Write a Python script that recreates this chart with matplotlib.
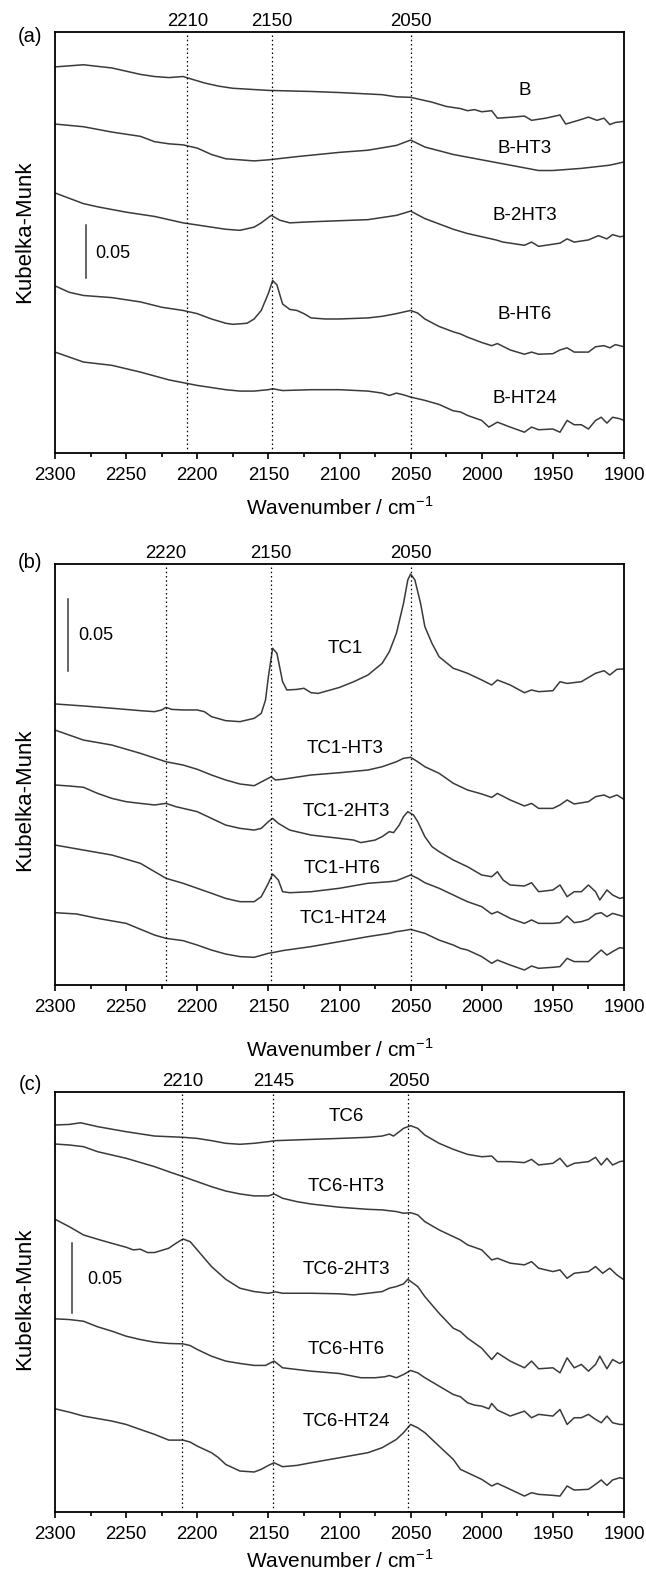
import matplotlib
matplotlib.use('Agg')
import matplotlib.pyplot as plt
from matplotlib.ticker import MultipleLocator

plt.rcParams['font.family'] = ['Liberation Sans', 'DejaVu Sans']

# ---------------- data: (wavenumber / cm-1, Kubelka-Munk) ----------------
# panel (a)
B = [(2300,0.361),(2280,0.363),(2260,0.360),(2240,0.354),(2230,0.352),(2220,0.351),(2210,0.352),
     (2205,0.350),(2195,0.346),(2185,0.343),(2175,0.341),(2150,0.339),(2120,0.338),(2100,0.337),
     (2070,0.335),(2060,0.333),(2050,0.3325),(2045,0.331),(2035,0.328),(2025,0.324),(2015,0.322),
     (2010,0.320),(2005,0.321),(2000,0.319),(1993,0.320),(1989,0.313),(1978,0.314),(1970,0.315),
     (1965,0.311),(1955,0.313),(1945,0.316),(1941,0.3075),(1932,0.311),(1925,0.314),(1919,0.311),
     (1914,0.313),(1910,0.307),(1906,0.309),(1900,0.310)]
B_HT3 = [(2300,0.3075),(2280,0.305),(2260,0.300),(2240,0.296),(2230,0.291),(2220,0.289),(2210,0.288),
         (2200,0.285),(2190,0.279),(2180,0.275),(2170,0.274),(2160,0.273),(2150,0.274),(2130,0.277),
         (2100,0.281),(2080,0.283),(2060,0.2875),(2050,0.2925),(2040,0.286),(2020,0.279),(2000,0.274),
         (1980,0.269),(1960,0.264),(1950,0.264),(1930,0.266),(1910,0.269),(1900,0.272)]
B_2HT3 = [(2300,0.243),(2280,0.233),(2270,0.230),(2250,0.225),(2230,0.221),(2210,0.215),(2200,0.213),
          (2180,0.209),(2170,0.208),(2160,0.211),(2155,0.215),(2148,0.222),(2142,0.2175),(2135,0.215),
          (2120,0.216),(2100,0.217),(2080,0.218),(2060,0.222),(2050,0.226),(2040,0.219),(2030,0.214),
          (2020,0.209),(2010,0.205),(2000,0.202),(1990,0.199),(1985,0.197),(1970,0.194),(1965,0.197),
          (1960,0.193),(1945,0.196),(1940,0.200),(1935,0.197),(1925,0.199),(1918,0.203),(1912,0.200),
          (1908,0.204),(1903,0.202),(1900,0.2025)]
B_HT6 = [(2300,0.156),(2290,0.150),(2280,0.147),(2260,0.145),(2240,0.141),(2225,0.136),(2210,0.133),
         (2200,0.130),(2190,0.125),(2180,0.121),(2175,0.120),(2165,0.121),(2160,0.125),(2155,0.133),
         (2150,0.149),(2147,0.161),(2144,0.157),(2140,0.139),(2135,0.134),(2130,0.133),(2125,0.130),
         (2120,0.126),(2110,0.125),(2100,0.125),(2080,0.126),(2070,0.1275),(2060,0.130),(2055,0.1315),
         (2050,0.133),(2045,0.1305),(2040,0.125),(2030,0.118),(2020,0.113),(2015,0.111),(2010,0.108),
         (2000,0.103),(1993,0.100),(1989,0.102),(1980,0.096),(1970,0.092),(1965,0.094),(1960,0.092),
         (1950,0.0925),(1945,0.096),(1940,0.098),(1935,0.094),(1925,0.094),(1920,0.099),(1914,0.100),
         (1910,0.098),(1906,0.101),(1900,0.099)]
B_HT24 = [(2300,0.094),(2280,0.0847),(2260,0.0816),(2240,0.0753),(2220,0.068),(2200,0.0628),(2180,0.0588),
          (2170,0.0575),(2160,0.0575),(2150,0.0588),(2147,0.0597),(2140,0.058),(2120,0.0588),(2100,0.0588),
          (2080,0.0575),(2070,0.0556),(2065,0.0534),(2060,0.0556),(2055,0.054),(2050,0.0519),(2040,0.0488),
          (2030,0.045),(2020,0.039),(2015,0.038),(2010,0.0347),(2000,0.030),(1995,0.0238),(1989,0.0284),
          (1980,0.0238),(1970,0.019),(1965,0.0238),(1960,0.0213),(1950,0.022),(1945,0.019),(1940,0.030),
          (1935,0.026),(1930,0.026),(1925,0.022),(1920,0.030),(1916,0.033),(1912,0.0275),(1908,0.033),
          (1903,0.0316),(1900,0.030)]

# panel (b)
TC1 = [(2300,0.197),(2280,0.1956),(2260,0.194),(2240,0.1923),(2230,0.1916),(2225,0.1928),(2222,0.1946),
       (2218,0.1932),(2210,0.1928),(2200,0.1928),(2195,0.1916),(2190,0.1881),(2180,0.1853),(2170,0.1846),
       (2160,0.1869),(2155,0.1904),(2152,0.1998),(2150,0.2161),(2147,0.236),(2144,0.2325),(2140,0.2126),
       (2137,0.2068),(2130,0.2072),(2125,0.208),(2120,0.2049),(2115,0.2044),(2100,0.2086),(2090,0.2126),
       (2080,0.2173),(2070,0.2255),(2065,0.2336),(2060,0.2465),(2055,0.2675),(2052,0.2839),(2050,0.2881),
       (2047,0.2839),(2043,0.2675),(2040,0.2512),(2035,0.2395),(2030,0.2301),(2020,0.222),(2015,0.2203),
       (2010,0.2185),(2000,0.2138),(1993,0.2103),(1989,0.2138),(1980,0.2103),(1970,0.2049),(1965,0.2068),
       (1960,0.2056),(1950,0.2063),(1945,0.2126),(1940,0.2114),(1930,0.2126),(1920,0.2185),(1914,0.2203),
       (1910,0.2173),(1905,0.2213),(1900,0.2215)]
TC1_HT3 = [(2300,0.1787),(2280,0.1717),(2260,0.1682),(2240,0.1624),(2222,0.1565),(2210,0.1542),(2200,0.1512),
           (2190,0.1472),(2180,0.1437),(2170,0.1409),(2160,0.1397),(2148,0.146),(2145,0.1437),(2140,0.1442),
           (2120,0.1472),(2100,0.1488),(2080,0.1507),(2070,0.153),(2060,0.1565),(2055,0.1589),(2050,0.1596),
           (2045,0.1565),(2040,0.153),(2030,0.1484),(2020,0.1414),(2010,0.1367),(2000,0.1339),(1993,0.1315),
           (1989,0.1343),(1980,0.1297),(1970,0.1255),(1965,0.1273),(1960,0.1238),(1950,0.1238),(1945,0.1262),
           (1940,0.1297),(1935,0.1269),(1925,0.1285),(1920,0.132),(1914,0.1332),(1910,0.1313),(1905,0.1332),
           (1900,0.1301)]
TC1_2HT3 = [(2300,0.1402),(2290,0.1395),(2280,0.1386),(2270,0.1343),(2260,0.1308),(2250,0.1285),(2240,0.1273),
            (2230,0.1262),(2222,0.1273),(2215,0.125),(2200,0.1215),(2190,0.1168),(2180,0.1121),(2170,0.1098),
            (2160,0.1086),(2155,0.1098),(2150,0.1145),(2147,0.1168),(2143,0.1133),(2135,0.1086),(2120,0.1051),
            (2100,0.1028),(2090,0.1016),(2085,0.0998),(2075,0.1016),(2070,0.104),(2065,0.1075),(2062,0.1068),
            (2058,0.1121),(2055,0.118),(2052,0.1215),(2048,0.1192),(2045,0.1145),(2040,0.104),(2035,0.097),
            (2030,0.0935),(2020,0.0876),(2010,0.0829),(2000,0.0771),(1993,0.0759),(1989,0.0794),(1985,0.0736),
            (1980,0.0701),(1970,0.0694),(1965,0.0717),(1960,0.0654),(1950,0.0666),(1945,0.0701),(1940,0.0619),
            (1935,0.0654),(1930,0.0654),(1925,0.0701),(1920,0.0654),(1917,0.0596),(1912,0.0666),(1908,0.0631),
            (1903,0.0607),(1900,0.0614)]
TC1_HT6 = [(2300,0.0981),(2280,0.0946),(2260,0.0911),(2240,0.0853),(2222,0.0748),(2210,0.0713),(2200,0.0678),
           (2190,0.0643),(2180,0.0607),(2170,0.0584),(2160,0.0584),(2155,0.0619),(2150,0.0713),(2147,0.0778),
           (2143,0.0736),(2140,0.0654),(2135,0.0647),(2120,0.0654),(2100,0.0678),(2080,0.0713),(2065,0.0724),
           (2060,0.0731),(2050,0.0771),(2045,0.0748),(2040,0.0717),(2030,0.0678),(2020,0.0631),(2015,0.0607),
           (2010,0.0584),(2000,0.0549),(1993,0.0498),(1989,0.0514),(1980,0.0467),(1970,0.0432),(1965,0.0456),
           (1960,0.0432),(1950,0.0432),(1945,0.0437),(1940,0.0484),(1935,0.0437),(1930,0.0444),(1925,0.046),
           (1920,0.0498),(1916,0.0507),(1912,0.0479),(1908,0.0502),(1903,0.0488),(1900,0.0479)]
TC1_HT24 = [(2300,0.0507),(2285,0.0498),(2270,0.0467),(2250,0.0432),(2230,0.035),(2222,0.0327),(2210,0.0311),
            (2200,0.028),(2190,0.0245),(2180,0.0217),(2170,0.0199),(2160,0.0194),(2150,0.0222),(2147,0.0227),
            (2140,0.0241),(2120,0.0269),(2100,0.0304),(2080,0.0339),(2065,0.0362),(2060,0.0374),(2055,0.0381),
            (2050,0.039),(2040,0.0362),(2030,0.0315),(2020,0.028),(2015,0.0257),(2010,0.0245),(2000,0.0199),
            (1993,0.0152),(1989,0.0175),(1980,0.014),(1970,0.0105),(1965,0.0133),(1960,0.0117),(1950,0.0124),
            (1945,0.0129),(1940,0.0187),(1935,0.0164),(1925,0.0164),(1920,0.021),(1916,0.0245),(1912,0.021),
            (1908,0.0234),(1903,0.0262),(1900,0.0257)]

# panel (c)
TC6 = [(2300,0.2767),(2290,0.2771),(2282,0.2783),(2270,0.2755),(2250,0.2719),(2230,0.2688),(2210,0.2679),
       (2200,0.2671),(2190,0.2655),(2180,0.2636),(2170,0.2629),(2160,0.2636),(2150,0.2648),(2145,0.2655),
       (2120,0.2664),(2100,0.2671),(2080,0.2679),(2070,0.2688),(2065,0.2702),(2062,0.2688),(2058,0.2719),
       (2055,0.2743),(2050,0.2762),(2045,0.2743),(2040,0.2695),(2030,0.2636),(2020,0.2593),(2010,0.2557),
       (2000,0.254),(1993,0.2545),(1989,0.2505),(1980,0.2505),(1970,0.2498),(1965,0.2521),(1960,0.2481),
       (1950,0.2493),(1945,0.2529),(1940,0.2469),(1935,0.2493),(1925,0.2505),(1920,0.2536),(1916,0.2481),
       (1912,0.2529),(1908,0.2481),(1903,0.2505),(1900,0.251)]
TC6_HT3 = [(2300,0.2631),(2290,0.2624),(2280,0.2612),(2270,0.2576),(2250,0.2529),(2230,0.2469),(2220,0.2433),
           (2210,0.2398),(2200,0.2362),(2190,0.2326),(2180,0.2295),(2170,0.2274),(2160,0.226),(2150,0.226),
           (2146,0.2274),(2140,0.2243),(2130,0.2219),(2120,0.2202),(2100,0.2179),(2080,0.2164),(2070,0.216),
           (2060,0.2148),(2055,0.2136),(2050,0.214),(2045,0.2124),(2040,0.2076),(2030,0.2017),(2020,0.1969),
           (2015,0.1945),(2010,0.191),(2000,0.1874),(1993,0.1802),(1989,0.1814),(1980,0.1779),(1970,0.1767),
           (1965,0.179),(1960,0.1743),(1950,0.1719),(1945,0.1731),(1940,0.1671),(1935,0.1707),(1925,0.1719),
           (1920,0.1755),(1915,0.1707),(1910,0.1743),(1905,0.1695),(1900,0.166)]
TC6_2HT3 = [(2300,0.2093),(2290,0.204),(2280,0.1981),(2270,0.195),(2260,0.1921),(2250,0.1893),(2245,0.1874),
            (2240,0.1879),(2235,0.1855),(2230,0.1855),(2220,0.1886),(2215,0.1921),(2210,0.1952),(2205,0.1933),
            (2200,0.1874),(2190,0.1755),(2180,0.1664),(2170,0.16),(2160,0.1576),(2150,0.1564),(2145,0.1574),
            (2140,0.1564),(2120,0.1564),(2100,0.156),(2090,0.1552),(2080,0.1564),(2070,0.1576),(2065,0.16),
            (2060,0.1612),(2055,0.1631),(2052,0.1664),(2045,0.1612),(2040,0.154),(2030,0.1421),(2020,0.1314),
            (2015,0.129),(2010,0.1243),(2000,0.1171),(1993,0.109),(1989,0.1138),(1980,0.1079),(1970,0.1031),
            (1965,0.1079),(1960,0.1024),(1950,0.1031),(1945,0.0995),(1940,0.1102),(1935,0.1031),(1930,0.1055),
            (1925,0.1007),(1920,0.1055),(1917,0.1114),(1912,0.1024),(1908,0.109),(1903,0.1062),(1900,0.1079)]
TC6_HT6 = [(2300,0.1381),(2290,0.1376),(2280,0.1364),(2270,0.1324),(2260,0.1293),(2250,0.1257),(2240,0.1233),
           (2230,0.1214),(2220,0.1205),(2210,0.1202),(2205,0.119),(2200,0.1162),(2190,0.1114),(2180,0.1079),
           (2170,0.1062),(2160,0.1048),(2152,0.1048),(2146,0.1079),(2140,0.1031),(2130,0.1019),(2120,0.1007),
           (2100,0.099),(2085,0.096),(2075,0.096),(2068,0.0967),(2065,0.0976),(2060,0.096),(2055,0.0983),
           (2050,0.1012),(2045,0.0995),(2040,0.096),(2030,0.09),(2020,0.084),(2015,0.0824),(2010,0.0781),
           (2005,0.0764),(2000,0.0757),(1995,0.0738),(1993,0.0776),(1989,0.0729),(1980,0.0686),(1970,0.0721),
           (1965,0.0674),(1960,0.0698),(1950,0.0686),(1945,0.0733),(1940,0.0626),(1935,0.0674),(1930,0.0674),
           (1925,0.0698),(1920,0.0662),(1916,0.0638),(1912,0.0686),(1908,0.0638),(1903,0.0626),(1900,0.0626)]
TC6_HT24 = [(2300,0.0738),(2290,0.0714),(2280,0.0686),(2260,0.065),(2250,0.0626),(2240,0.059),(2230,0.0555),
            (2220,0.0514),(2210,0.0514),(2205,0.05),(2200,0.0471),(2190,0.0424),(2185,0.0388),(2180,0.034),
            (2170,0.0293),(2160,0.0286),(2155,0.0305),(2150,0.0333),(2146,0.0352),(2140,0.0324),(2130,0.0333),
            (2120,0.0352),(2100,0.0388),(2080,0.0424),(2070,0.046),(2060,0.0519),(2055,0.0567),(2050,0.0626),
            (2045,0.0602),(2040,0.0567),(2030,0.0471),(2020,0.0376),(2015,0.0305),(2010,0.0281),(2000,0.0233),
            (1993,0.0186),(1989,0.0205),(1980,0.0162),(1970,0.0114),(1965,0.0138),(1960,0.0126),(1950,0.0119),
            (1945,0.0114),(1940,0.0186),(1935,0.0157),(1925,0.0162),(1920,0.0198),(1916,0.0229),(1912,0.019),
            (1908,0.0229),(1903,0.0245),(1900,0.0238)]

# reference lines (cm-1) and their labels
a_lines = [2207, 2147.5, 2050]; a_line_labels = ['2210', '2150', '2050']
b_lines = [2222, 2148, 2050];   b_line_labels = ['2220', '2150', '2050']
c_lines = [2210.5, 2146.5, 2051.5]; c_line_labels = ['2210', '2145', '2050']

x_ticks = [2300, 2250, 2200, 2150, 2100, 2050, 2000, 1950, 1900]

# ---------------- figure ----------------
W, H = 646, 1573
fig = plt.figure(figsize=(W / 100, H / 100), dpi=100)
LINE_C = '#3a3a3a'
PX = 72 / 100  # points per pixel

panels = [
    dict(top=32.3, bottom=452.5, ymax=0.3934, letter='(a)', letter_y=36, ylab_y=231.5, xlab_pad=9.5,
         lines=a_lines, line_labels=a_line_labels,
         curves=[(B, 'B', 1970, 0.339), (B_HT3, 'B-HT3', 1970, 0.285), (B_2HT3, 'B-2HT3', 1970, 0.222),
                 (B_HT6, 'B-HT6', 1970, 0.129), (B_HT24, 'B-HT24', 1970, 0.051)],
         bar=(2278.5, 0.163, 0.213), bar_text=(2272, 0.1865)),
    dict(top=564.3, bottom=985.0, ymax=0.2949, letter='(b)', letter_y=563, ylab_y=800, xlab_pad=16,
         lines=b_lines, line_labels=b_line_labels,
         curves=[(TC1, 'TC1', 2096, 0.236), (TC1_HT3, 'TC1-HT3', 2096, 0.166),
                 (TC1_2HT3, 'TC1-2HT3', 2095, 0.1215), (TC1_HT6, 'TC1-HT6', 2098, 0.0818),
                 (TC1_HT24, 'TC1-HT24', 2097, 0.0467)],
         bar=(2290.7, 0.2203, 0.2703), bar_text=(2283.5, 0.2453)),
    dict(top=1091.7, bottom=1512.0, ymax=0.3005, letter='(c)', letter_y=1084, ylab_y=1299, xlab_pad=4.5,
         lines=c_lines, line_labels=c_line_labels,
         curves=[(TC6, 'TC6', 2095, 0.2826), (TC6_HT3, 'TC6-HT3', 2095, 0.2326),
                 (TC6_2HT3, 'TC6-2HT3', 2095, 0.1736), (TC6_HT6, 'TC6-HT6', 2095, 0.1162),
                 (TC6_HT24, 'TC6-HT24', 2095, 0.0645)],
         bar=(2287.8, 0.1421, 0.1921), bar_text=(2277.6, 0.1664)),
]

for p in panels:
    ax = fig.add_axes([55 / W, 1 - p['bottom'] / H, (624 - 55) / W, (p['bottom'] - p['top']) / H])
    ax.set_xlim(2300, 1900)
    ax.set_ylim(0, p['ymax'])
    for data, name, lw_, lv in p['curves']:
        xs = [d[0] for d in data]
        ys = [d[1] for d in data]
        ax.plot(xs, ys, color=LINE_C, lw=1.1)
        ax.text(lw_, lv, name, ha='center', va='center', fontsize=13.5)
    for w, lab in zip(p['lines'], p['line_labels']):
        ax.axvline(w, color='black', lw=0.9, ls=(0, (1.2, 2.2)))
        ax.annotate(lab, xy=(w, 1), xycoords=('data', 'axes fraction'), xytext=(0, 10.5 * PX),
                    textcoords='offset points', ha='center', va='center', fontsize=13.4)
    bx, b0, b1 = p['bar']
    ax.plot([bx, bx], [b0, b1], color=LINE_C, lw=1.1)
    ax.text(p['bar_text'][0], p['bar_text'][1], '0.05', ha='left', va='center', fontsize=13)

    ax.set_xticks(x_ticks)
    ax.xaxis.set_minor_locator(MultipleLocator(25))
    ax.set_yticks([])
    ax.tick_params(axis='x', which='major', direction='out', length=6 * PX, width=1.2,
                   labelsize=13.4, pad=8 * PX)
    ax.tick_params(axis='x', which='minor', direction='out', length=3.5 * PX, width=1.2)
    for s in ax.spines.values():
        s.set_linewidth(1.3)
    ax.set_xlabel('Wavenumber / cm$^{\\mathregular{-1}}$', fontsize=15, labelpad=p['xlab_pad'])
    fig.text(25 / W, 1 - p['ylab_y'] / H, 'Kubelka-Munk', rotation=90, ha='center', va='center',
             fontsize=16)
    fig.text(30 / W, 1 - p['letter_y'] / H, p['letter'], ha='center', va='center', fontsize=14.5)

fig.savefig('out.png', dpi=100)
